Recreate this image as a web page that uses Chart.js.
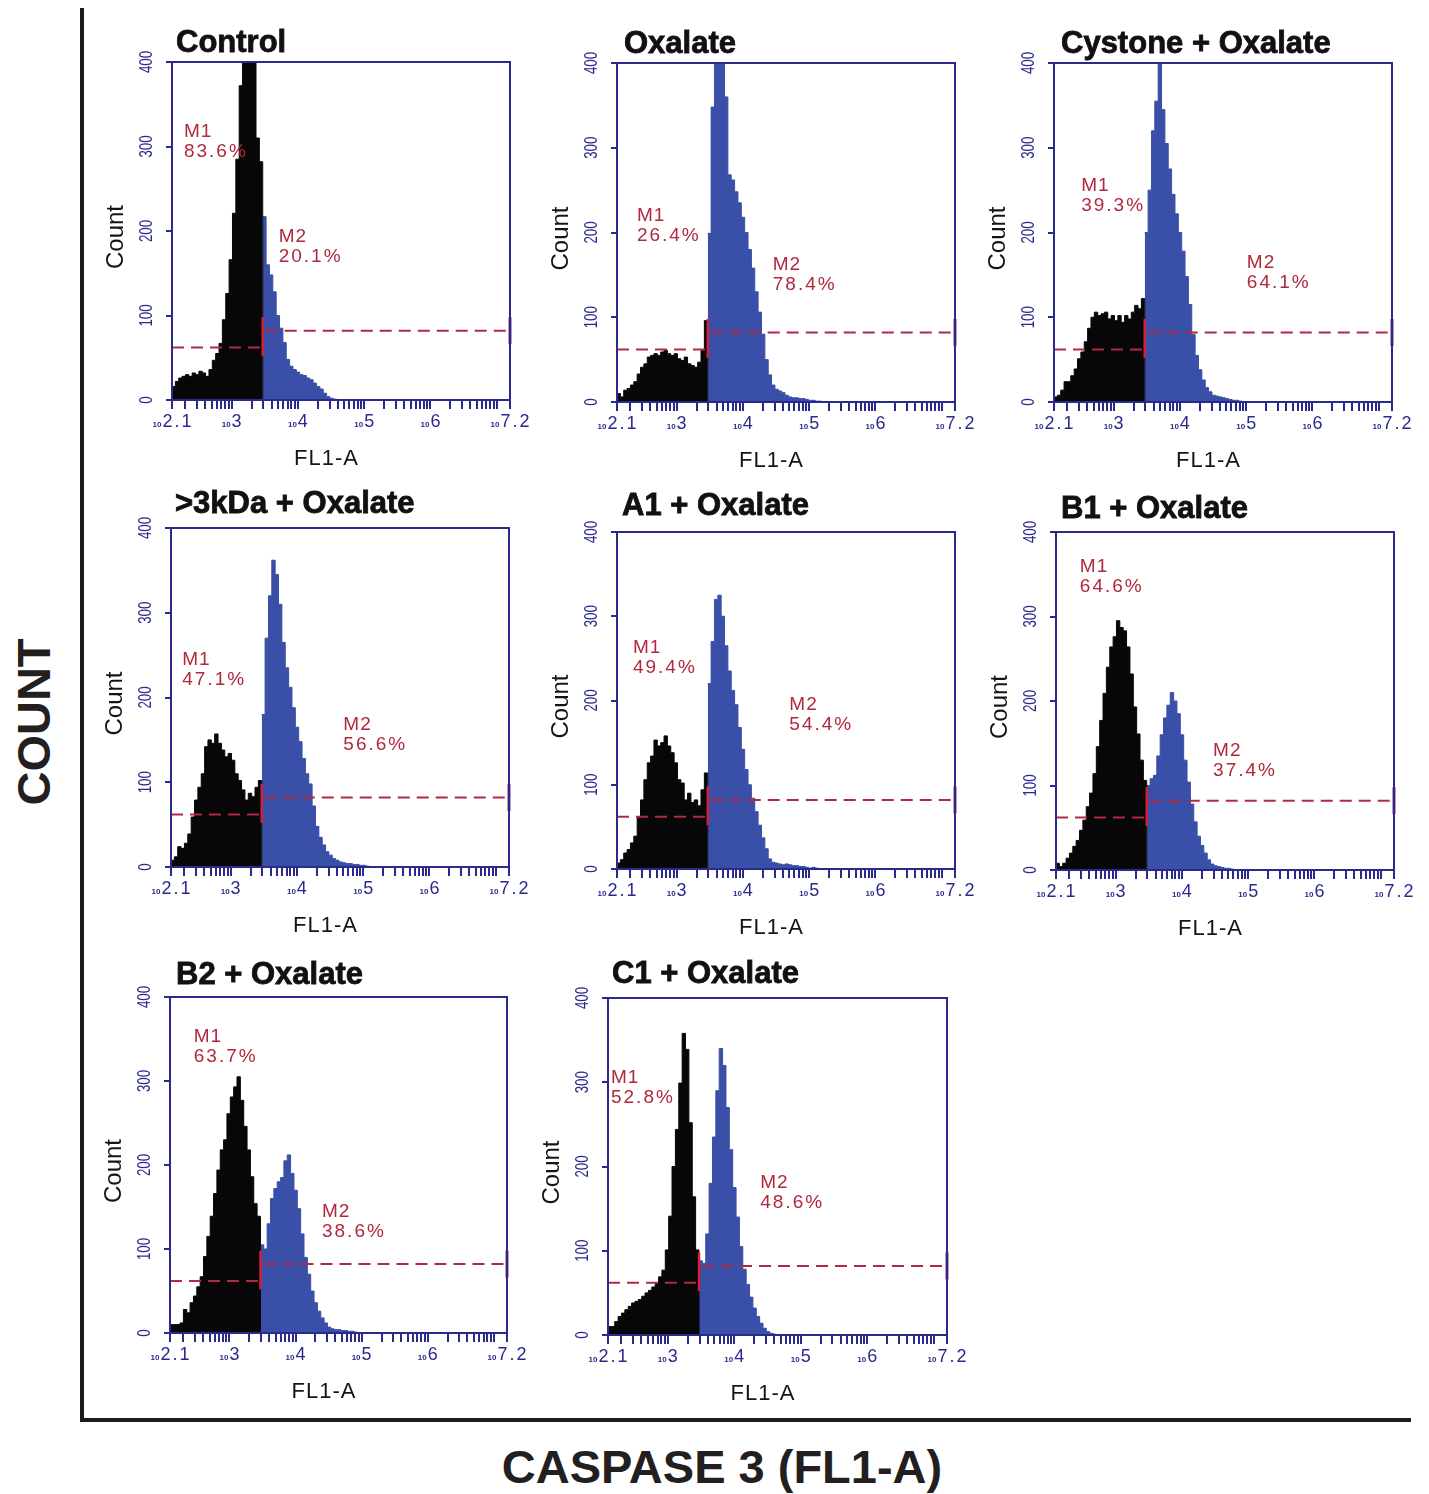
<!DOCTYPE html>
<html>
<head>
<meta charset="utf-8">
<script src="https://cdn.jsdelivr.net/npm/chart.js@4.4.1/dist/chart.umd.min.js"></script>
<style>
html,body{margin:0;padding:0;background:#fff;}
body{width:1429px;height:1494px;position:relative;overflow:hidden;font-family:"Liberation Sans",Arial,Helvetica,sans-serif;}
canvas{position:absolute;}
#vline{position:absolute;left:80px;top:8px;width:4px;height:1414px;background:#1c1c1c;}
#hline{position:absolute;left:80px;top:1418px;width:1331px;height:4px;background:#1c1c1c;}
#ylab{position:absolute;left:33px;top:722px;transform:translate(-50%,-50%) rotate(-90deg);font-weight:bold;font-size:47px;line-height:1;white-space:nowrap;color:#231f20;}
#xlab{position:absolute;left:722px;top:1466px;transform:translate(-50%,-50%);font-weight:bold;font-size:47px;line-height:1;white-space:nowrap;color:#231f20;}
</style>
</head>
<body>
<div id="vline"></div>
<div id="hline"></div>
<div id="ylab">COUNT</div>
<div id="xlab">CASPASE 3 (FL1-A)</div>
<script>
// ---------- data ----------
const X_MIN = 2.1, X_MAX = 7.2;          // log10 FL1-A range
const BIN_START = 2.1;                    // first histogram channel (log10)
const BIN_WIDTH = 0.0507;                 // channel width (log10)
const GATE_BINS = 27;                     // channels inside M1
const Y_TICKS = [0, 100, 200, 300, 400];
const X_LABEL_EXPS = [2.1, 3, 4, 5, 6, 7.2];
const X_LABEL_TEXT = ['2.1', '3', '4', '5', '6', '7.2'];
const MARKER_LEVELS = [62, 82];           // M1, M2 marker heights (count)

const TITLES = ['Control', 'Oxalate', 'Cystone + Oxalate', '>3kDa + Oxalate', 'A1 + Oxalate', 'B1 + Oxalate', 'B2 + Oxalate', 'C1 + Oxalate'];
const M1_PCT = ['83.6%', '26.4%', '39.3%', '47.1%', '49.4%', '64.6%', '63.7%', '52.8%'];
const M2_PCT = ['20.1%', '78.4%', '64.1%', '56.6%', '54.4%', '37.4%', '38.6%', '48.6%'];

const controlM1 = [16,22,26,28,30,28,32,30,34,32,28,36,47,55,67,95,126,166,221,285,372,430,440,430,405,310,282];
const controlM2 = [217,160,148,128,100,85,68,48,40,36,33,30,29,26,24,20,16,13,8,4,2,1];
const oxalateM1 = [10,6,14,16,20,24,33,41,45,53,55,57,55,59,61,57,55,57,51,49,53,45,43,41,47,61,96];
const oxalateM2 = [199,348,420,440,410,360,268,262,248,235,218,200,180,158,130,106,80,50,32,20,15,13,11,8,6,5,5,4,4,3,2,2,1,1];
const cystoneM1 = [6,8,14,24,24,31,39,51,59,71,87,100,106,102,104,106,98,102,96,102,94,102,98,106,114,110,122];
const cystoneM2 = [200,250,320,355,410,345,305,275,245,222,200,178,148,115,80,55,38,26,17,12,8,7,6,5,4,3,2,2,1];
const kdaM1 = [8,12,24,22,28,39,59,79,94,110,142,150,146,157,146,138,130,134,126,110,102,91,79,87,83,94,102];
const kdaM2 = [180,270,320,362,345,310,265,235,212,188,165,148,128,110,98,72,48,35,26,18,14,10,8,6,5,4,4,3,3,2,2,1];
const a1M1 = [7,11,19,23,31,39,62,82,106,126,134,153,146,150,158,146,138,126,106,102,82,90,79,82,75,94,114];
const a1M2 = [220,270,320,325,300,265,235,212,195,168,142,118,100,84,68,52,37,24,12,8,7,6,5,6,5,4,4,3,3,2,1,2,1];
const b1M1 = [8,4,8,14,20,28,35,47,59,75,91,114,146,177,209,240,264,276,295,287,283,264,232,193,161,130,106];
const b1M2 = [100,108,112,135,160,180,195,210,200,185,160,130,104,78,57,40,29,20,12,7,5,4,3,2,2,1];
const b2M1 = [10,10,10,12,28,24,36,44,55,67,91,115,139,166,194,218,230,261,281,293,305,277,246,218,186,154,139];
const b2M2 = [105,100,130,160,172,180,185,205,212,190,170,148,118,90,70,50,36,26,18,12,7,5,4,4,3,3,2,2,1];
const c1M1 = [10,10,16,22,26,30,34,38,40,42,46,50,53,57,61,69,77,101,141,200,244,299,358,339,252,164,101];
const c1M2 = [88,85,120,180,235,290,340,320,270,220,175,140,105,78,60,45,32,22,14,8,4,2,1];

const SERIES = [
  [controlM1, controlM2], [oxalateM1, oxalateM2], [cystoneM1, cystoneM2],
  [kdaM1, kdaM2], [a1M1, a1M2], [b1M1, b1M2],
  [b2M1, b2M2], [c1M1, c1M2]
];

// ---------- layout (page pixels) and label anchors (data units) ----------
const LAYOUT = [
  {L:172, T:62,  R:510, B:400,  tdx:4, tdy:-10, m1:[2.28,311], m2:[3.71,187]},
  {L:617, T:63,  R:955, B:402,  tdx:7, tdy:-10, m1:[2.40,213], m2:[4.45,156]},
  {L:1054,T:63,  R:1392,B:402,  tdx:7, tdy:-10, m1:[2.51,249], m2:[5.01,158]},
  {L:171, T:528, R:509, B:867,  tdx:4, tdy:-15, m1:[2.27,238], m2:[4.70,162]},
  {L:617, T:532, R:955, B:869,  tdx:5, tdy:-17, m1:[2.34,256], m2:[4.70,189]},
  {L:1056,T:532, R:1394,B:870,  tdx:5, tdy:-14, m1:[2.46,353], m2:[4.47,135]},
  {L:170, T:997, R:507, B:1333, tdx:6, tdy:-13, m1:[2.46,346], m2:[4.40,138]},
  {L:608, T:998, R:947, B:1335, tdx:4, tdy:-15, m1:[2.145,299], m2:[4.39,174]}
];

const NAVY = '#2a2a8c';
const HIST_BLACK = '#070707';
const HIST_BLUE = '#3a4fa8';
const MARK_RED = '#b02a40';
const TEXT_RED = '#b0283c';
const FONT = '"Liberation Sans", Arial, Helvetica, sans-serif';

const xTickValues = [X_MIN];
for (let d = 2; d <= 7; d++) {
  for (let m = 1; m <= 9; m++) {
    const v = d + Math.log10(m);
    if (v > X_MIN + 1e-9 && v < X_MAX - 1e-9) xTickValues.push(v);
  }
}
xTickValues.push(X_MAX);

function spacedText(ctx, text, x, y, spacing) {
  if ('letterSpacing' in ctx) {
    ctx.letterSpacing = spacing + 'px';
    ctx.fillText(text, x, y);
    ctx.letterSpacing = '0px';
  } else {
    let cx = x;
    for (const ch of text) { ctx.fillText(ch, cx, y); cx += ctx.measureText(ch).width + spacing; }
  }
}
function spacedWidth(ctx, text, spacing) {
  return ctx.measureText(text).width + spacing * (text.length);
}

function panelPlugin(i) {
  const lay = LAYOUT[i];
  return {
    id: 'panel' + i,
    afterDraw(chart) {
      const ctx = chart.ctx;
      const xs = chart.scales.x, ys = chart.scales.y;
      const ca = chart.chartArea;
      const gate = BIN_START + GATE_BINS * BIN_WIDTH;
      ctx.save();
      // markers
      ctx.strokeStyle = MARK_RED;
      ctx.lineWidth = 2;
      ctx.setLineDash([12, 7]);
      let y1 = ys.getPixelForValue(MARKER_LEVELS[0]);
      ctx.beginPath(); ctx.moveTo(xs.getPixelForValue(X_MIN), y1); ctx.lineTo(xs.getPixelForValue(gate) - 2, y1); ctx.stroke();
      let y2 = ys.getPixelForValue(MARKER_LEVELS[1]);
      ctx.beginPath(); ctx.moveTo(xs.getPixelForValue(gate) + 3, y2); ctx.lineTo(xs.getPixelForValue(X_MAX), y2); ctx.stroke();
      ctx.setLineDash([]);
      ctx.strokeStyle = '#d0203a';
      ctx.lineWidth = 2.5;
      const gx = xs.getPixelForValue(gate);
      ctx.beginPath(); ctx.moveTo(gx, ys.getPixelForValue(MARKER_LEVELS[0] - 10)); ctx.lineTo(gx, ys.getPixelForValue(MARKER_LEVELS[1] + 16)); ctx.stroke();
      ctx.strokeStyle = '#8b2a7a';
      ctx.lineWidth = 3;
      const rx = xs.getPixelForValue(X_MAX);
      ctx.beginPath(); ctx.moveTo(rx, ys.getPixelForValue(MARKER_LEVELS[1] - 16)); ctx.lineTo(rx, ys.getPixelForValue(MARKER_LEVELS[1] + 16)); ctx.stroke();

      // frame
      ctx.strokeStyle = NAVY;
      ctx.lineWidth = 2;
      ctx.strokeRect(ca.left, ca.top, ca.right - ca.left, ca.bottom - ca.top);

      // y tick labels (rotated, condensed)
      ctx.fillStyle = NAVY;
      ctx.font = '18px ' + FONT;
      ctx.textAlign = 'center';
      ctx.textBaseline = 'alphabetic';
      for (const v of Y_TICKS) {
        const py = ys.getPixelForValue(v);
        ctx.save();
        ctx.translate(ca.left - 20, py);
        ctx.rotate(-Math.PI / 2);
        ctx.scale(0.74, 1);
        ctx.fillText(String(v), 0, 0);
        ctx.restore();
      }
      // x tick labels: small "10" + exponent
      for (let k = 0; k < X_LABEL_EXPS.length; k++) {
        const px = xs.getPixelForValue(X_LABEL_EXPS[k]);
        const base = ca.bottom + 27;
        ctx.font = 'bold 8px ' + FONT;
        const w10 = ctx.measureText('10').width;
        ctx.font = '18px ' + FONT;
        const sp = X_LABEL_TEXT[k].length > 1 ? 2 : 0;
        const we = ctx.measureText(X_LABEL_TEXT[k]).width + sp * (X_LABEL_TEXT[k].length - 1);
        const start = px - (w10 + 1 + we) / 2;
        ctx.textAlign = 'left';
        ctx.font = 'bold 8px ' + FONT;
        ctx.fillText('10', start, base);
        ctx.font = '18px ' + FONT;
        spacedText(ctx, X_LABEL_TEXT[k], start + w10 + 1, base, sp);
      }
      // axis titles
      ctx.fillStyle = '#151515';
      ctx.font = '22px ' + FONT;
      ctx.textAlign = 'left';
      const fw = spacedWidth(ctx, 'FL1-A', 1) - 1;
      spacedText(ctx, 'FL1-A', (ca.left + ca.right) / 2 - 15 - fw / 2, ca.bottom + 65, 1);
      ctx.save();
      ctx.translate(ca.left - 49, (ca.top + ca.bottom) / 2 + 6);
      ctx.rotate(-Math.PI / 2);
      ctx.font = '24px ' + FONT;
      ctx.textAlign = 'center';
      ctx.fillText('Count', 0, 0);
      ctx.restore();

      // panel title
      ctx.font = 'bold 31px ' + FONT;
      ctx.textAlign = 'left';
      ctx.fillStyle = '#111';
      ctx.strokeStyle = '#111';
      ctx.lineWidth = 0.8;
      ctx.fillText(TITLES[i], ca.left + lay.tdx, ca.top + lay.tdy);
      ctx.strokeText(TITLES[i], ca.left + lay.tdx, ca.top + lay.tdy);

      // marker labels
      ctx.fillStyle = TEXT_RED;
      ctx.font = '19px ' + FONT;
      const mx1 = xs.getPixelForValue(lay.m1[0]), my1 = ys.getPixelForValue(lay.m1[1]);
      spacedText(ctx, 'M1', mx1, my1, 1);
      spacedText(ctx, M1_PCT[i], mx1, my1 + 20, 2);
      const mx2 = xs.getPixelForValue(lay.m2[0]), my2 = ys.getPixelForValue(lay.m2[1]);
      spacedText(ctx, 'M2', mx2, my2, 1);
      spacedText(ctx, M2_PCT[i], mx2, my2 + 20, 2);
      ctx.restore();
    }
  };
}

const CW = 470, CH = 480, OX = 110, OY = 60;
function makeChart(i) {
  const lay = LAYOUT[i];
  const w = lay.R - lay.L, h = lay.B - lay.T;
  const canvas = document.createElement('canvas');
  canvas.width = CW; canvas.height = CH;
  canvas.style.width = CW + 'px'; canvas.style.height = CH + 'px';
  canvas.style.left = (lay.L - OX) + 'px';
  canvas.style.top = (lay.T - OY) + 'px';
  document.body.appendChild(canvas);
  const m1 = SERIES[i][0], m2 = SERIES[i][1];
  const gate = BIN_START + GATE_BINS * BIN_WIDTH;
  const m1Pts = m1.map((v, k) => ({x: BIN_START + k * BIN_WIDTH, y: v}));
  m1Pts.push({x: gate, y: 0});
  const m2Pts = m2.map((v, k) => ({x: gate + k * BIN_WIDTH, y: v}));
  m2Pts.push({x: gate + m2.length * BIN_WIDTH, y: 0});
  new Chart(canvas, {
    type: 'line',
    data: {
      datasets: [
        {label: 'M1', data: m1Pts, stepped: 'before', fill: 'origin', backgroundColor: HIST_BLACK, borderColor: HIST_BLACK, borderWidth: 1, pointRadius: 0},
        {label: 'M2', data: m2Pts, stepped: 'before', fill: 'origin', backgroundColor: HIST_BLUE, borderColor: HIST_BLUE, borderWidth: 1, pointRadius: 0}
      ]
    },
    options: {
      responsive: false,
      animation: false,
      devicePixelRatio: 1,
      events: [],
      layout: {padding: {left: OX, top: OY, right: CW - OX - w, bottom: CH - OY - h}},
      plugins: {legend: {display: false}, tooltip: {enabled: false}, title: {display: false}},
      scales: {
        x: {
          type: 'linear', min: X_MIN, max: X_MAX,
          afterBuildTicks: s => { s.ticks = xTickValues.map(v => ({value: v})); },
          afterFit: s => { s.height = 0; },
          ticks: {display: false},
          grid: {drawOnChartArea: false, drawTicks: true, tickLength: 9, color: NAVY, lineWidth: 2},
          border: {display: false}
        },
        y: {
          type: 'linear', min: 0, max: 400,
          afterBuildTicks: s => { s.ticks = Y_TICKS.map(v => ({value: v})); },
          afterFit: s => { s.width = 0; },
          ticks: {display: false},
          grid: {drawOnChartArea: false, drawTicks: true, tickLength: 6, color: NAVY, lineWidth: 2},
          border: {display: false}
        }
      }
    },
    plugins: [panelPlugin(i)]
  });
}
for (let i = 0; i < LAYOUT.length; i++) makeChart(i);
</script>
</body>
</html>
